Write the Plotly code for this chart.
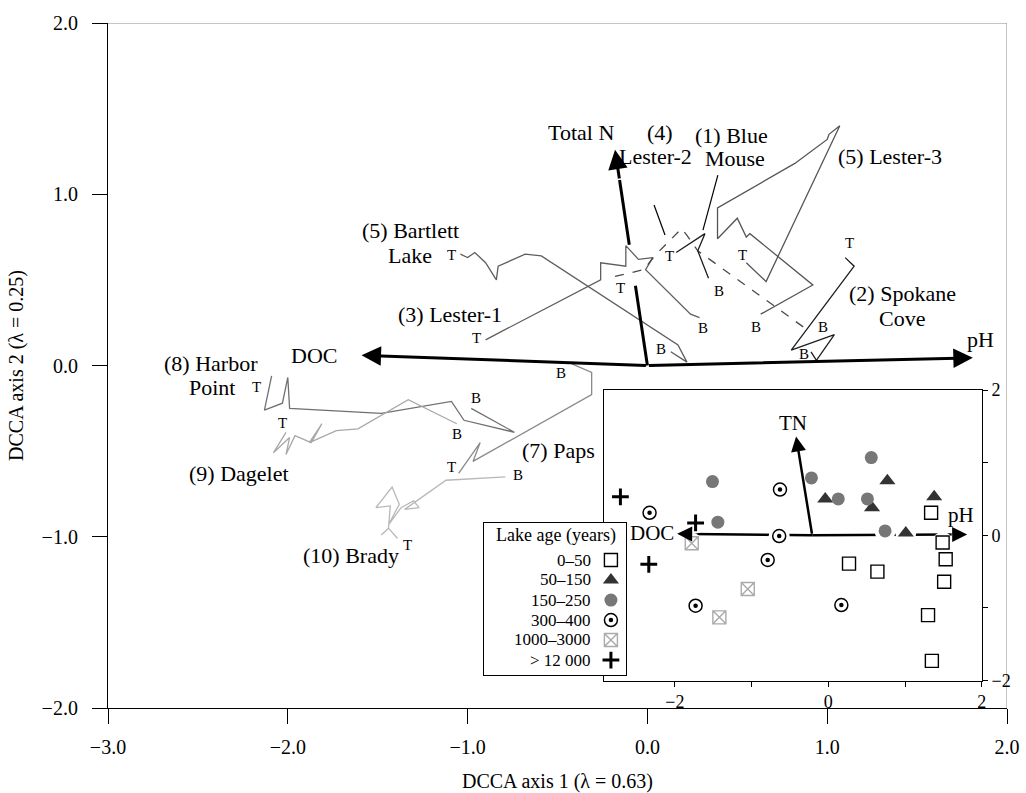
import plotly.graph_objects as go

FONT = "Liberation Serif"

# ---------------------------------------------------------------------------
# Core trajectories in DCCA space (axis 1, axis 2), ordered from T (top) to B (bottom)
# ---------------------------------------------------------------------------
blue_mouse_x = [0.16, 0.32, 0.28, 0.34]
blue_mouse_y = [0.66, 0.77, 0.67, 0.51]

spokane_x = [1.10, 1.15, 0.80, 1.04, 0.94, 0.91]
spokane_y = [0.63, 0.58, 0.09, 0.18, 0.03, 0.08]

lester1_x = [-0.90, -0.26, -0.26, -0.12, -0.12, -0.05, 0.03, -0.01, 0.24, 0.29]
lester1_y = [0.15, 0.50, 0.60, 0.58, 0.70, 0.62, 0.63, 0.56, 0.30, 0.28]

lester2_x = [-0.18, -0.02, 0.04, 0.19, 0.22, 0.28, 0.90]
lester2_y = [0.52, 0.56, 0.64, 0.80, 0.76, 0.67, 0.20]

lester3_x = [0.55, 0.66, 1.07, 1.01, 1.00, 0.82, 0.39, 0.39, 0.50, 0.55, 0.57, 0.92, 0.63]
lester3_y = [0.60, 0.49, 1.40, 1.35, 1.32, 1.18, 0.92, 0.74, 0.86, 0.75, 0.77, 0.47, 0.30]

bartlett_x = [-1.04, -1.00, -0.96, -0.90, -0.84, -0.83, -0.68, -0.59, 0.17, 0.22, 0.13]
bartlett_y = [0.65, 0.63, 0.66, 0.60, 0.50, 0.58, 0.65, 0.64, 0.12, 0.02, 0.08]

paps_x = [-1.05, -0.93, -0.97, -0.31, -0.31, -0.42]
paps_y = [-0.63, -0.45, -0.56, -0.17, -0.04, 0.01]

harbor_x = [-2.09, -2.13, -2.03, -2.00, -1.99, -1.48, -1.09, -1.02, -0.74, -0.98]
harbor_y = [-0.06, -0.26, -0.22, -0.07, -0.25, -0.28, -0.21, -0.32, -0.39, -0.25]

dagelet_x = [-2.01, -2.08, -1.99, -2.01, -1.96, -1.87, -1.81, -1.88, -1.73, -1.61, -1.33, -1.06]
dagelet_y = [-0.39, -0.51, -0.42, -0.52, -0.41, -0.45, -0.34, -0.45, -0.38, -0.37, -0.20, -0.34]

brady_x = [-1.39, -1.44, -1.48, -1.44, -1.43, -1.51, -1.42, -1.38, -1.44, -1.37, -1.30, -1.27, -1.35, -1.12, -0.79]
brady_y = [-1.01, -0.95, -0.99, -0.95, -0.82, -0.83, -0.71, -0.81, -0.93, -0.83, -0.79, -0.83, -0.84, -0.67, -0.65]

# Environmental biplot vectors (main ordination), drawn from the origin
vector_names = ["Total N", "DOC", "pH"]
vector_tip_x = [-0.18, -1.59, 1.81]
vector_tip_y = [1.26, 0.06, 0.045]

# ---------------------------------------------------------------------------
# Inset: surface-sediment samples by lake age
# ---------------------------------------------------------------------------
age_labels = ["0–50", "50–150", "150–250", "300–400", "1000–3000", "> 12 000"]

age_0_50_x = [1.34, 1.49, 1.53, 1.51, 1.30, 1.35, 0.27, 0.64]
age_0_50_y = [0.31, -0.10, -0.33, -0.64, -1.10, -1.73, -0.39, -0.50]
age_50_150_x = [-0.04, 0.77, 0.57, 1.01, 1.38]
age_50_150_y = [0.50, 0.75, 0.38, 0.03, 0.53]
age_150_250_x = [-1.51, -1.44, -0.22, 0.56, 0.13, 0.51, 0.74]
age_150_250_y = [0.74, 0.18, 0.79, 1.07, 0.50, 0.50, 0.06]
age_300_400_x = [-2.33, -0.63, -0.64, -0.79, -1.73, 0.17]
age_300_400_y = [0.31, 0.63, -0.01, -0.34, -0.97, -0.96]
age_1000_3000_x = [-1.78, -1.05, -1.42]
age_1000_3000_y = [-0.11, -0.74, -1.13]
age_12000_x = [-2.71, -1.73, -2.34]
age_12000_y = [0.53, 0.17, -0.40]

inset_vector_names = ["TN", "DOC", "pH"]
inset_origin_x, inset_origin_y = -0.21, 0.0
inset_tip_x = [-0.42, -1.97, 1.81]
inset_tip_y = [1.36, 0.02, 0.01]

fig = go.Figure()

# ---------------------------------------------------------------- main panel
trajectories = [
    (bartlett_x, bartlett_y, "#5e5e5e", "solid"),
    (lester1_x, lester1_y, "#5e5e5e", "solid"),
    (lester3_x, lester3_y, "#555555", "solid"),
    (lester2_x, lester2_y, "#4a4a4a", "dash"),
    (blue_mouse_x, blue_mouse_y, "#1e1e1e", "solid"),
    (spokane_x, spokane_y, "#1e1e1e", "solid"),
    (harbor_x, harbor_y, "#707070", "solid"),
    (paps_x, paps_y, "#8a8a8a", "solid"),
    (dagelet_x, dagelet_y, "#a8a8a8", "solid"),
    (brady_x, brady_y, "#b8b8b8", "solid"),
]
for tx, ty, col, dash in trajectories:
    fig.add_trace(go.Scatter(x=tx, y=ty, mode="lines", xaxis="x", yaxis="y",
                             line=dict(color=col, width=1.3, dash=dash),
                             hoverinfo="skip"))

# leader lines from the site names to their trajectories
leaders = [((0.037, 0.098), (0.937, 0.762)),   # Lester-2
           ((0.392, 0.309), (1.112, 0.791))]   # Blue Mouse
for lx, ly in leaders:
    fig.add_trace(go.Scatter(x=list(lx), y=list(ly), mode="lines",
                             line=dict(color="black", width=1.2), hoverinfo="skip"))

# Total N shaft, interrupted where it crosses the Lester trajectories
tn_x, tn_y = vector_tip_x[0], vector_tip_y[0]
shaft_pieces = [(0.0, 0.37), (0.56, 0.86)]
for f0, f1 in shaft_pieces:
    fig.add_trace(go.Scatter(x=[tn_x * f0, tn_x * f1], y=[tn_y * f0, tn_y * f1],
                             mode="lines", line=dict(color="black", width=3),
                             hoverinfo="skip"))

annotations = []

def arrow(xref, yref, x0, y0, x1, y1, width, size):
    annotations.append(dict(x=x1, y=y1, ax=x0, ay=y0, xref=xref, yref=yref,
                            axref=xref, ayref=yref, text="", showarrow=True,
                            arrowhead=2, arrowsize=size, arrowwidth=width,
                            arrowcolor="black"))

arrow("x", "y", tn_x * 0.86, tn_y * 0.86, tn_x, tn_y, 3, 1.3)
arrow("x", "y", 0, 0, vector_tip_x[1], vector_tip_y[1], 3, 1.3)
arrow("x", "y", 0, 0, vector_tip_x[2], vector_tip_y[2], 3, 1.3)

# site names and vector names
big_labels = [
    ("Total N", -0.367, 1.358, "center"),
    ("(1) Blue", 0.47, 1.346, "center"),
    ("Mouse", 0.486, 1.206, "center"),
    ("(4)", 0.07, 1.363, "center"),
    ("Lester-2", 0.043, 1.223, "center"),
    ("(5) Lester-3", 1.35, 1.223, "center"),
    ("(5) Bartlett", -1.315, 0.791, "center"),
    ("Lake", -1.187, 0.645, "right"),
    ("(3) Lester-1", -1.099, 0.295, "center"),
    ("(2) Spokane", 1.42, 0.423, "center"),
    ("Cove", 1.415, 0.277, "center"),
    ("pH", 1.85, 0.149, "center"),
    ("DOC", -1.853, 0.061, "center"),
    ("(8) Harbor", -2.429, 0.009, "center"),
    ("Point", -2.285, -0.131, "right"),
    ("(9) Dagelet", -2.274, -0.628, "center"),
    ("(7) Paps", -0.494, -0.494, "center"),
    ("(10) Brady", -1.647, -1.112, "center"),
]
for txt, x, y, anc in big_labels:
    annotations.append(dict(x=x, y=y, xref="x", yref="y", text=txt, showarrow=False,
                            xanchor=anc, yanchor="middle",
                            font=dict(family=FONT, size=22, color="black")))

# top (T) and bottom (B) markers of each core
core_ends = [
    ("T", -1.09, 0.645), ("B", 0.076, 0.096),      # Bartlett
    ("T", -0.949, 0.160), ("B", 0.309, 0.219),     # Lester-1
    ("T", -0.151, 0.453), ("B", 0.975, 0.225),     # Lester-2
    ("T", 0.121, 0.639), ("B", 0.398, 0.435),      # Blue Mouse
    ("T", 0.531, 0.645), ("B", 0.603, 0.225),      # Lester-3
    ("T", 1.124, 0.715), ("B", 0.869, 0.067),      # Spokane Cove
    ("T", -2.174, -0.126), ("B", -0.955, -0.190),  # Harbor Point
    ("T", -2.030, -0.336), ("B", -1.060, -0.400),  # Dagelet
    ("T", -1.088, -0.593), ("B", -0.478, -0.044),  # Paps
    ("T", -1.337, -1.048), ("B", -0.722, -0.640),  # Brady
]
for txt, x, y in core_ends:
    annotations.append(dict(x=x, y=y, xref="x", yref="y", text=txt, showarrow=False,
                            xanchor="center", yanchor="middle",
                            font=dict(family=FONT, size=15, color="black")))

# ---------------------------------------------------------------- inset panel
# horizontal DOC / pH shafts (markers sitting on them break the line)
for i in (1, 2):
    fig.add_trace(go.Scatter(
        x=[inset_origin_x, inset_origin_x + 0.9 * (inset_tip_x[i] - inset_origin_x)],
        y=[inset_origin_y, inset_origin_y + 0.9 * (inset_tip_y[i] - inset_origin_y)],
        mode="lines", xaxis="x2", yaxis="y2",
        line=dict(color="black", width=2.5), hoverinfo="skip"))

age_groups = [
    (age_0_50_x, age_0_50_y, dict(symbol="square-open", size=13, color="black",
                                  line=dict(color="black", width=1.4))),
    (age_50_150_x, age_50_150_y, dict(symbol="triangle-up", size=14, color="#333333",
                                      line=dict(width=0))),
    (age_150_250_x, age_150_250_y, dict(symbol="circle", size=13, color="#777777",
                                        line=dict(width=0))),
    (age_300_400_x, age_300_400_y, dict(symbol="circle-open", size=13, color="black",
                                        line=dict(color="black", width=1.5))),
    (age_1000_3000_x, age_1000_3000_y, dict(symbol="square-x-open", size=13, color="#aaaaaa",
                                            line=dict(color="#aaaaaa", width=1.4))),
    (age_12000_x, age_12000_y, dict(symbol="cross-thin-open", size=12, color="black",
                                    line=dict(color="black", width=3))),
]

all_x = [v for gx, _, _ in age_groups for v in gx]
all_y = [v for _, gy, _ in age_groups for v in gy]
fig.add_trace(go.Scatter(x=all_x, y=all_y, mode="markers", xaxis="x2", yaxis="y2",
                         marker=dict(symbol="circle", size=21, color="white",
                                     line=dict(width=0)), hoverinfo="skip"))
for gx, gy, mk in age_groups:
    fig.add_trace(go.Scatter(x=gx, y=gy, mode="markers", xaxis="x2", yaxis="y2",
                             marker=mk, hoverinfo="skip"))
# centre dots of the 300-400 yr symbols
fig.add_trace(go.Scatter(x=age_300_400_x, y=age_300_400_y, mode="markers",
                         xaxis="x2", yaxis="y2",
                         marker=dict(symbol="circle", size=4.5, color="black"),
                         hoverinfo="skip"))

arrow("x2", "y2", inset_origin_x, inset_origin_y, inset_tip_x[0], inset_tip_y[0], 2.5, 1.2)
for i in (1, 2):
    arrow("x2", "y2",
          inset_origin_x + 0.9 * (inset_tip_x[i] - inset_origin_x),
          inset_origin_y + 0.9 * (inset_tip_y[i] - inset_origin_y),
          inset_tip_x[i], inset_tip_y[i], 2.5, 1.2)

inset_labels = [("TN", -0.46, 1.54, "center"), ("DOC", -1.99, 0.03, "right"),
                ("pH", 1.73, 0.28, "center")]
for txt, x, y, anc in inset_labels:
    annotations.append(dict(x=x, y=y, xref="x2", yref="y2", text=txt, showarrow=False,
                            xanchor=anc, yanchor="middle",
                            font=dict(family=FONT, size=21, color="black")))

# ---------------------------------------------------------------- key (lake age)
fig.add_trace(go.Scatter(x=[0, 1, 1, 0, 0], y=[0, 0, 1, 1, 0], mode="lines",
                         fill="toself", fillcolor="white", line=dict(width=0),
                         xaxis="x3", yaxis="y3", hoverinfo="skip"))
row_y = [0.755, 0.624, 0.492, 0.361, 0.230, 0.098]
for (gx, gy, mk), ry in zip(age_groups, row_y):
    fig.add_trace(go.Scatter(x=[0.893], y=[ry], mode="markers", xaxis="x3", yaxis="y3",
                             marker=mk, hoverinfo="skip"))
fig.add_trace(go.Scatter(x=[0.893], y=[row_y[3]], mode="markers", xaxis="x3", yaxis="y3",
                         marker=dict(symbol="circle", size=4.5, color="black"),
                         hoverinfo="skip"))
annotations.append(dict(x=0.508, y=0.915, xref="x3", yref="y3", text="Lake age (years)",
                        showarrow=False, xanchor="center", yanchor="middle",
                        font=dict(family=FONT, size=18, color="black")))
for lab, ry in zip(age_labels, row_y):
    annotations.append(dict(x=0.765, y=ry, xref="x3", yref="y3", text=lab,
                            showarrow=False, xanchor="right", yanchor="middle",
                            font=dict(family=FONT, size=17, color="black")))

# ---------------------------------------------------------------- axes
tick_font = dict(family=FONT, size=20, color="black")
fig.update_layout(
    width=1026, height=793,
    margin=dict(l=108, r=19, t=23, b=85, autoexpand=False),
    paper_bgcolor="white", plot_bgcolor="white",
    showlegend=False,
    xaxis=dict(domain=[0, 1], range=[-3, 2], tickvals=[-3, -2, -1, 0, 1, 2],
               ticktext=["−3.0", "−2.0", "−1.0", "0.0", "1.0", "2.0"],
               ticks="outside", ticklen=15, tickwidth=1.2, tickcolor="black",
               showline=True, linecolor="black", linewidth=1.2,
               showgrid=False, zeroline=False, tickfont=tick_font,
               ticklabelstandoff=6, automargin=False,
               title=dict(text="DCCA axis 1 (λ = 0.63)", font=tick_font, standoff=18)),
    yaxis=dict(domain=[0, 1], range=[-2, 2], tickvals=[-2, -1, 0, 1, 2],
               ticktext=["−2.0", "−1.0", "0.0", "1.0", "2.0"],
               ticks="outside", ticklen=15, tickwidth=1.2, tickcolor="black",
               showline=True, linecolor="black", linewidth=1.2,
               showgrid=False, zeroline=False, tickfont=tick_font,
               ticklabelstandoff=10, automargin=False,
               title=dict(text="DCCA axis 2 (λ = 0.25)", font=tick_font, standoff=12)),
    xaxis2=dict(domain=[0.5512, 0.9719], range=[-2.93, 2.0], anchor="y2",
                tickvals=[-2, -1, 0, 1, 2], ticktext=["−2", "", "0", "", "2"],
                ticks="outside", ticklen=5, tickcolor="black",
                showline=True, mirror=True, linecolor="black", linewidth=1.3,
                showgrid=False, zeroline=False, automargin=False,
                tickfont=dict(family=FONT, size=18, color="black")),
    yaxis2=dict(domain=[0.0401, 0.4642], range=[-2, 2], anchor="x2", side="right",
                tickvals=[-2, -1, 0, 1, 2], ticktext=["−2", "", "0", "", "2"],
                ticks="outside", ticklen=5, tickcolor="black",
                showline=True, mirror=True, linecolor="black", linewidth=1.3,
                showgrid=False, zeroline=False, automargin=False,
                tickfont=dict(family=FONT, size=18, color="black")),
    xaxis3=dict(domain=[0.4177, 0.5764], range=[0, 1], anchor="y3",
                showline=True, mirror=True, linecolor="black", linewidth=1.3,
                showgrid=False, zeroline=False, showticklabels=False, ticks="",
                automargin=False),
    yaxis3=dict(domain=[0.0482, 0.2705], range=[0, 1], anchor="x3",
                showline=True, mirror=True, linecolor="black", linewidth=1.3,
                showgrid=False, zeroline=False, showticklabels=False, ticks="",
                automargin=False),
    annotations=annotations,
    shapes=[
        dict(type="line", xref="x", yref="y", x0=-3, y0=2, x1=2, y1=2,
             line=dict(color="#8c8c8c", width=1), layer="below"),
        dict(type="line", xref="x", yref="y", x0=2, y0=2, x1=2, y1=-2,
             line=dict(color="#8c8c8c", width=1), layer="below"),
    ],
)

fig.write_html("out.html")
